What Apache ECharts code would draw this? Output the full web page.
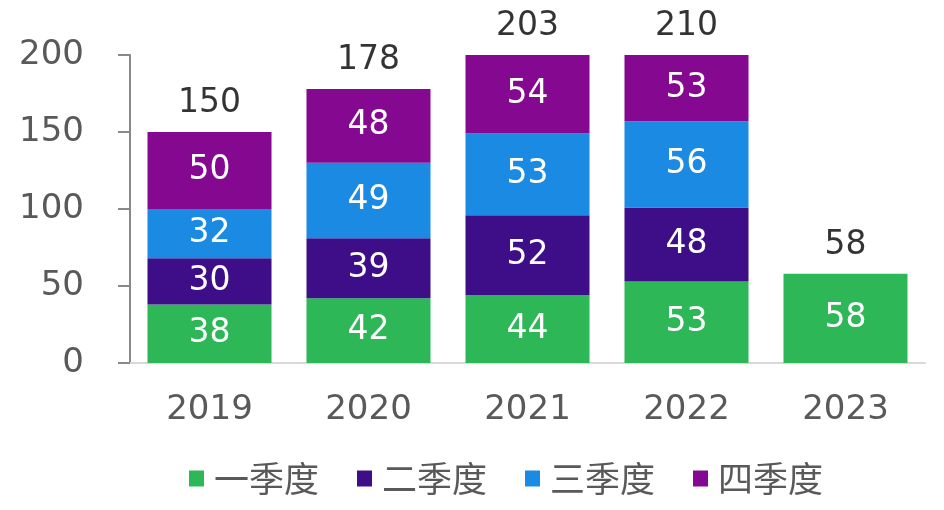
<!DOCTYPE html>
<html><head><meta charset="utf-8">
<script src="https://cdn.jsdelivr.net/npm/echarts@6/dist/echarts.min.js"></script>
<style>html,body{margin:0;padding:0;background:#fff}#c{width:944px;height:510px}</style>
</head><body><div id="c"></div>
<script>
const categories = ['2019','2020','2021','2022','2023'];
const seriesNames = ['一季度','二季度','三季度','四季度'];
const q1 = [38, 42, 44, 53, 58];
const q2 = [30, 39, 52, 48, null];
const q3 = [32, 49, 53, 56, null];
const q4 = [50, 48, 54, 53, null];
const totals = [150, 178, 203, 210, 58];
const yTicks = [0, 50, 100, 150, 200];
const colors = ['#2DB757', '#3D0E88', '#1A8AE2', '#850890'];
const font = '"DejaVu Sans", Verdana, "Noto Sans CJK SC", sans-serif';
const cjkFont = '"Noto Sans CJK SC", "DejaVu Sans", sans-serif';
const yMax = yTicks[yTicks.length - 1];

const seriesData = [q1, q2, q3, q4];
const series = seriesData.map((d, i) => ({
  name: seriesNames[i],
  type: 'bar',
  stack: 'total',
  barWidth: '78%',
  clip: true,
  itemStyle: { color: colors[i] },
  label: { show: true, position: 'inside', color: '#fff', fontSize: 33, fontFamily: font,
    formatter: p => p.value == null ? '' : String(p.value) },
  data: d
}));
series.push({
  name: 'total',
  type: 'scatter',
  symbolSize: 0,
  clip: false,
  silent: true,
  label: { show: true, position: 'top', distance: 12, color: '#000', fontSize: 33, fontFamily: font,
    formatter: p => String(totals[p.dataIndex]) },
  data: totals.map(t => Math.min(t, yMax))
});

const chart = echarts.init(document.getElementById('c'), null, { renderer: 'canvas' });
chart.setOption({
  animation: false,
  color: colors,
  grid: { left: 130, right: 19, top: 55, bottom: 147 },
  legend: {
    data: seriesNames,
    top: 456,
    left: 184,
    icon: 'rect',
    itemWidth: 15,
    itemHeight: 16,
    itemGap: 38,
    textStyle: { fontSize: 35, color: '#595959', fontFamily: cjkFont, padding: [0,0,0,5] }
  },
  xAxis: {
    type: 'category',
    data: categories,
    axisLine: { show: true, lineStyle: { color: '#D9D9D9', width: 2 } },
    axisTick: { show: false },
    axisLabel: { fontSize: 34, color: '#595959', fontFamily: font, margin: 30 }
  },
  yAxis: {
    type: 'value',
    min: 0, max: yMax, interval: 50,
    splitLine: { show: false },
    axisLine: { show: true, lineStyle: { color: '#898989', width: 2 } },
    axisTick: { show: true, length: 12, lineStyle: { color: '#898989', width: 2 } },
    axisLabel: { fontSize: 34, color: '#595959', fontFamily: font, margin: 46 }
  },
  series: series
});
</script></body></html>
